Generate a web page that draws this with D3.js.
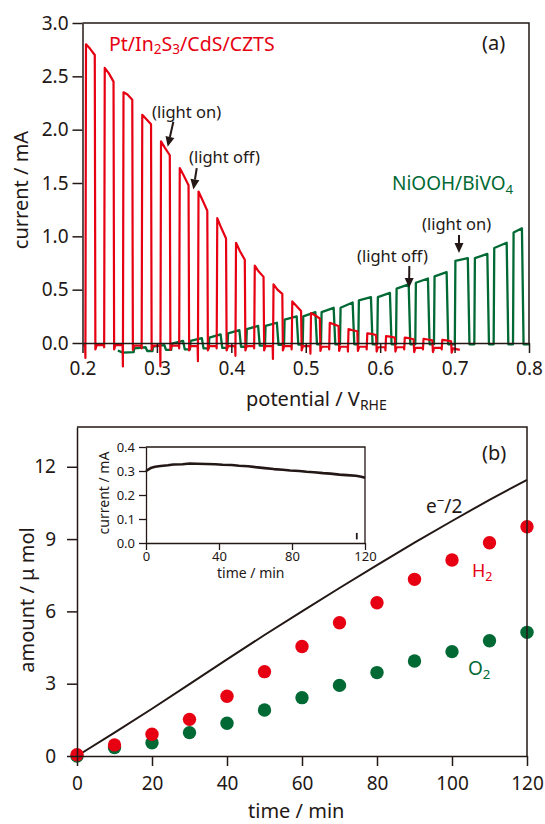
<!DOCTYPE html>
<html><head><meta charset="utf-8">
<script src="https://cdn.jsdelivr.net/npm/d3@7"></script>
<style>
body{margin:0;background:#fff;}
svg{display:block;font-family:"Noto Sans",sans-serif;}
</style></head><body>
<svg id="c" width="545" height="824"></svg>
<script>
// ---------- DATA (a): chopped-light current vs potential ----------
const potTicks = [0.2, 0.3, 0.4, 0.5, 0.6, 0.7, 0.8];
const curTicks = [0.0, 0.5, 1.0, 1.5, 2.0, 2.5, 3.0];

// Pt/In2S3/CdS/CZTS (red): light-on potentials and currents (mA)
const redOn   = [0.2035,0.2287,0.2539,0.2791,0.3043,0.3295,0.3547,0.3799,0.4051,0.4303,0.4555,0.4807,0.5059,0.5311,0.5563,0.5815,0.6067,0.6319,0.6571,0.6823];
const redPeak = [2.80,2.58,2.35,2.14,1.89,1.64,1.42,1.17,0.94,0.725,0.55,0.39,0.28,0.19,0.13,0.09,0.065,0.05,0.04,0.03];
const redMid  = [2.76,2.53,2.33,2.10,1.83,1.57,1.34,1.08,0.86,0.67,0.50,0.35,0.26,0.175,0.12,0.085,0.06,0.045,0.033,0.024];
const redEnd  = [2.70,2.45,2.28,2.05,1.76,1.48,1.24,0.98,0.78,0.62,0.46,0.30,0.23,0.16,0.11,0.075,0.05,0.035,0.025,0.015];
const redDip  = [-0.14,-0.04,-0.22,-0.05,-0.22,-0.05,-0.17,-0.05,-0.12,-0.05,-0.15,-0.06,-0.10,-0.06,-0.08,-0.06,-0.07,-0.06,-0.06,-0.06];
const redBase = [-0.02,-0.02,-0.025,-0.025,-0.025,-0.03,-0.03,-0.03,-0.03,-0.03,-0.03,-0.03,-0.035,-0.035,-0.035,-0.04,-0.04,-0.045,-0.045,-0.05];
const redStart = [0.2012, -0.02];
const redTail  = [0.707, -0.065];
const redDur = 0.013;

// NiOOH/BiVO4 (green)
const greenOn    = [0.2688,0.294,0.3192,0.3444,0.3696,0.3948,0.42,0.4452,0.4708,0.4959,0.5205,0.546,0.5706,0.5961,0.6213,0.6472,0.6723,0.7003,0.7265,0.7525,0.7785];
const greenOff   = [0.2848,0.310,0.3352,0.3604,0.3856,0.4108,0.436,0.4612,0.4878,0.5129,0.5375,0.563,0.5876,0.6131,0.6383,0.6642,0.6893,0.7178,0.744,0.770,0.7905];
const greenStart = [-0.05,-0.035,-0.005,0.02,0.05,0.09,0.13,0.16,0.22,0.25,0.29,0.33,0.40,0.43,0.51,0.565,0.625,0.77,0.795,0.89,1.035];
const greenEnd   = [-0.04,-0.02,0.02,0.045,0.08,0.12,0.16,0.19,0.25,0.29,0.33,0.38,0.43,0.47,0.55,0.605,0.665,0.795,0.835,0.94,1.075];
const greenBase  = [-0.075,-0.065,-0.06,-0.05,-0.045,-0.035,-0.025,-0.018,-0.014,-0.012,-0.012,-0.012,-0.012,-0.012,-0.012,-0.012,-0.012,-0.012,-0.012,-0.012,-0.012];
const greenHead  = [[0.2475,-0.07],[0.254,-0.09],[0.2688,-0.085]];
const greenTailV = 0.80;

// ---------- DATA (b): gas evolution ----------
const timeTicks = [0, 20, 40, 60, 80, 100, 120];
const amountTicks = [0, 3, 6, 9, 12];
const gasTime = [0,10,20,30,40,50,60,70,80,90,100,110,120];
const h2 = [0.05,0.46,0.90,1.52,2.48,3.50,4.54,5.53,6.36,7.33,8.13,8.85,9.51];
const o2 = [0.00,0.35,0.55,0.97,1.36,1.91,2.42,2.93,3.46,3.94,4.33,4.78,5.13];
const eTime = [0,10,20,30,40,50,60,70,80,90,100,110,120];
const eHalf = [0,0.97,1.96,2.98,4.01,5.02,6.00,6.97,7.92,8.85,9.75,10.63,11.46];

// inset: current vs time
const insetTimeTicks = [0, 40, 80, 120];
const insetCurTicks = [0.0, 0.1, 0.2, 0.3, 0.4];
const insetTime = [0,1,3,5,8,12,15,20,24,28,33,38,42,47,51,56,60,65,70,75,79,84,88,92,97,101,106,110,115,118,120];
const insetCur  = [0.300,0.305,0.314,0.318,0.321,0.324,0.327,0.328,0.331,0.330,0.329,0.328,0.326,0.325,0.322,0.320,0.316,0.312,0.308,0.305,0.302,0.300,0.297,0.295,0.291,0.289,0.285,0.283,0.280,0.276,0.272];
const insetMark = [115.5, 0.015, 0.042];

// ---------- STYLE ----------
const RED = "#e60012", GREEN = "#006934", INK = "#231815";
const svg = d3.select("#c");

// scales
const xa = d3.scaleLinear().domain([0.2,0.8]).range([82.5,529]);
const ya = d3.scaleLinear().domain([0,3]).range([343,23]);
const xb = d3.scaleLinear().domain([0,120]).range([77,527]);
const yb = d3.scaleLinear().domain([0,13.65]).range([756,427]);
const xi = d3.scaleLinear().domain([0,120]).range([146,365]);
const yi = d3.scaleLinear().domain([0,0.4]).range([543,447]);

function styleAxis(g, fs){
  g.selectAll(".domain").attr("stroke", INK).attr("stroke-width", 1.5);
  g.selectAll(".tick line").attr("stroke", INK).attr("stroke-width", 1.5);
  g.selectAll(".tick text").attr("fill", INK).style("font-size", fs+"px").style("font-family", '"Noto Sans",sans-serif');
}
function rich(sel, parts, fs){
  parts.forEach(([t,m])=>{
    const sp = sel.append("tspan").text(t);
    if(m!=="n") sp.style("font-size",(fs*0.7)+"px");
    sp.attr("data-mode", m);
  });
  let shift = 0;
  sel.selectAll("tspan").each(function(){
    const m = this.getAttribute("data-mode");
    const want = m==="sub" ? fs*0.2 : (m==="sup" ? -fs*0.42 : 0);
    this.setAttribute("dy", want - shift);
    shift = want;
  });
}

// ---------- PANEL (a) ----------
const line = d3.line();
const rp = [redStart];
let base = redStart[1];
redOn.forEach((on,k)=>{
  const off = on + redDur;
  rp.push([on, base],[on+0.0004, redDip[k]],[on+0.0012, redPeak[k]],[on+0.0065, redMid[k]],
          [off, redEnd[k]],[off+0.0008, redBase[k]-0.04],[off+0.0025, redBase[k]]);
  base = redBase[k];
});
rp.push(redTail);
const gp = greenHead.slice(0,2);
let gb = greenHead[2][1];
greenOn.forEach((on,k)=>{
  gp.push([on, gb],[on+0.0008, greenStart[k]],[greenOff[k], greenEnd[k]],[greenOff[k]+0.0022, greenBase[k]]);
  gb = greenBase[k];
});
gp.push([greenTailV, gb]);

svg.append("path").attr("d", line(gp.map(d=>[xa(d[0]), ya(d[1])])))
  .attr("fill","none").attr("stroke",GREEN).attr("stroke-width",2.3).attr("stroke-linejoin","round");
svg.append("path").attr("d", line(rp.map(d=>[xa(d[0]), ya(d[1])])))
  .attr("fill","none").attr("stroke",RED).attr("stroke-width",2.2).attr("stroke-linejoin","round");

svg.append("path").attr("d",`M${xa(0.2)},${ya(3)}H${xa(0.8)}V${ya(0)}`)
  .attr("fill","none").attr("stroke",INK).attr("stroke-width",1.5);
const axA = svg.append("g").attr("transform",`translate(${xa(0.2)},0)`)
  .call(d3.axisLeft(ya).tickValues(curTicks).tickFormat(d3.format(".1f")).tickSize(10).tickSizeOuter(0).tickPadding(4));
styleAxis(axA, 19);
const axAx = svg.append("g").attr("transform",`translate(0,${ya(0)})`)
  .call(d3.axisBottom(xa).tickValues(potTicks).tickFormat(d3.format(".1f")).tickSize(10).tickSizeOuter(0).tickPadding(9));
styleAxis(axAx, 19);

svg.append("text").attr("transform","translate(28,190) rotate(-90)").attr("text-anchor","middle")
  .attr("fill",INK).style("font-size","20px").text("current / mA");
rich(svg.append("text").attr("x",246).attr("y",406).attr("fill",INK).style("font-size","20px"),
  [["potential / V","n"],["RHE","sub"]], 20);
rich(svg.append("text").attr("x",109).attr("y",50.5).attr("fill",RED).style("font-size","19.5px"),
  [["Pt/In","n"],["2","sub"],["S","n"],["3","sub"],["/CdS/CZTS","n"]], 19.5);
svg.append("text").attr("x",482).attr("y",50).attr("fill",INK).style("font-size","20px").text("(a)");
rich(svg.append("text").attr("x",392).attr("y",190).attr("fill",GREEN).style("font-size","19px"),
  [["NiOOH/BiVO","n"],["4","sub"]], 19);

const notes = [
  ["(light on)", 152, 118, 0.3221, 2.075, 0.3145, 1.84],
  ["(light off)", 189, 163, 0.3535, 1.64, 0.349, 1.44],
  ["(light off)", 357, 262, 0.6392, 0.722, 0.6388, 0.516],
  ["(light on)", 422, 230, 0.7059, 1.013, 0.7059, 0.844]
];
notes.forEach(n=>{
  svg.append("text").attr("x",n[1]).attr("y",n[2]).attr("fill",INK).style("font-size","16.5px").text(n[0]);
  const x1=xa(n[3]), y1=ya(n[4]), x2=xa(n[5]), y2=ya(n[6]);
  const ang = Math.atan2(y2-y1, x2-x1), L=10, W=4.5;
  const bx = x2 - L*Math.cos(ang), by = y2 - L*Math.sin(ang);
  svg.append("line").attr("x1",x1).attr("y1",y1).attr("x2",bx).attr("y2",by)
    .attr("stroke",INK).attr("stroke-width",2);
  svg.append("path").attr("d",`M${x2},${y2}L${bx+W*Math.sin(ang)},${by-W*Math.cos(ang)}L${bx-W*Math.sin(ang)},${by+W*Math.cos(ang)}Z`)
    .attr("fill",INK);
});

// ---------- PANEL (b) ----------
svg.append("path").attr("d", d3.line()(eTime.map((t,i)=>[xb(t), yb(eHalf[i])])))
  .attr("fill","none").attr("stroke",INK).attr("stroke-width",2);
svg.append("g").selectAll("circle").data(gasTime).join("circle")
  .attr("cx",d=>xb(d)).attr("cy",(d,i)=>yb(o2[i])).attr("r",6.7).attr("fill",GREEN);
svg.append("g").selectAll("circle").data(gasTime).join("circle")
  .attr("cx",d=>xb(d)).attr("cy",(d,i)=>yb(h2[i])).attr("r",6.7).attr("fill",RED);

svg.append("path").attr("d",`M${xb(0)},${yb(13.65)}H${xb(120)}V${yb(0)}`)
  .attr("fill","none").attr("stroke",INK).attr("stroke-width",1.5);
const axB = svg.append("g").attr("transform",`translate(${xb(0)},0)`)
  .call(d3.axisLeft(yb).tickValues(amountTicks).tickSize(10).tickSizeOuter(0).tickPadding(11));
styleAxis(axB, 19);
const axBx = svg.append("g").attr("transform",`translate(0,${yb(0)})`)
  .call(d3.axisBottom(xb).tickValues(timeTicks).tickSize(10).tickSizeOuter(0).tickPadding(11));
styleAxis(axBx, 19);

svg.append("text").attr("transform","translate(34,600) rotate(-90)").attr("text-anchor","middle")
  .attr("fill",INK).style("font-size","20px").text("amount / μ mol");
svg.append("text").attr("x",248).attr("y",818).attr("fill",INK).style("font-size","20px").text("time / min");
svg.append("text").attr("x",482).attr("y",460).attr("fill",INK).style("font-size","20px").text("(b)");
rich(svg.append("text").attr("x",426).attr("y",513).attr("fill",INK).style("font-size","19px"),
  [["e","n"],["−","sup"],["/2","n"]], 19);
rich(svg.append("text").attr("x",472).attr("y",577).attr("fill",RED).style("font-size","18px"),
  [["H","n"],["2","sub"]], 18);
rich(svg.append("text").attr("x",468).attr("y",675).attr("fill",GREEN).style("font-size","19px"),
  [["O","n"],["2","sub"]], 19);

// ---------- INSET ----------
svg.append("path").attr("d", d3.line()(insetTime.map((t,i)=>[xi(t), yi(insetCur[i])])))
  .attr("fill","none").attr("stroke",INK).attr("stroke-width",2.6).attr("stroke-linejoin","round");
svg.append("line").attr("x1",xi(insetMark[0])).attr("x2",xi(insetMark[0]))
  .attr("y1",yi(insetMark[1])).attr("y2",yi(insetMark[2])).attr("stroke",INK).attr("stroke-width",1.8);
svg.append("path").attr("d",`M${xi(0)},${yi(0.4)}H${xi(120)}V${yi(0)}`)
  .attr("fill","none").attr("stroke",INK).attr("stroke-width",1.3);
const axI = svg.append("g").attr("transform",`translate(${xi(0)},0)`)
  .call(d3.axisLeft(yi).tickValues(insetCurTicks).tickFormat(d3.format(".1f")).tickSize(7).tickSizeOuter(0).tickPadding(4));
styleAxis(axI, 13);
const axIx = svg.append("g").attr("transform",`translate(0,${yi(0)})`)
  .call(d3.axisBottom(xi).tickValues(insetTimeTicks).tickSize(7).tickSizeOuter(0).tickPadding(2));
styleAxis(axIx, 13);
axI.selectAll(".domain,.tick line").attr("stroke-width",1.3);
axIx.selectAll(".domain,.tick line").attr("stroke-width",1.3);
svg.append("text").attr("transform","translate(109,493) rotate(-90)").attr("text-anchor","middle")
  .attr("fill",INK).style("font-size","14px").text("current / mA");
svg.append("text").attr("x",217).attr("y",578).attr("fill",INK).style("font-size","14px").text("time / min");
</script>
</body></html>
